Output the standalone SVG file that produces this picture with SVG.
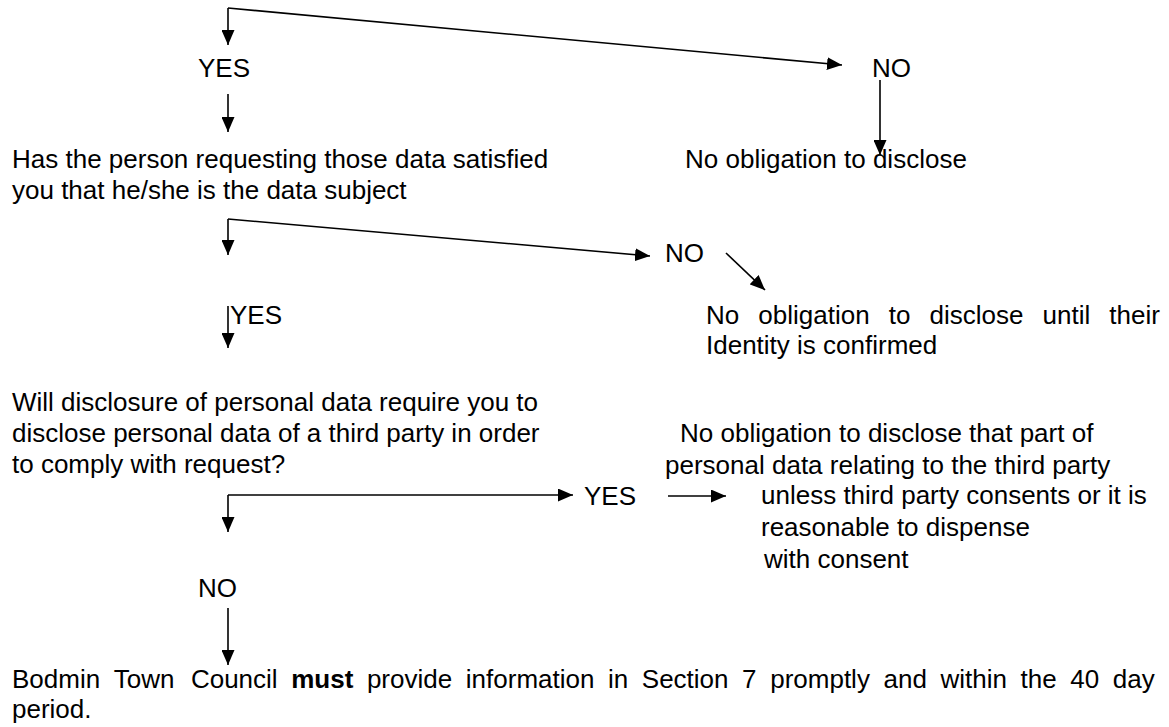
<svg xmlns="http://www.w3.org/2000/svg" width="1169" height="727" viewBox="0 0 1169 727">
<defs>
<marker id="ah" viewBox="0 0 15 13" refX="15" refY="6.5" markerWidth="15" markerHeight="13" markerUnits="userSpaceOnUse" orient="auto">
<path d="M0,0 L15,6.5 L0,13 z" fill="#000"/>
</marker>
</defs>
<style>
text{font-family:"Liberation Sans",Arial,sans-serif;font-size:26px;fill:#000}
.b{font-weight:bold}
.c{fill:none;stroke:#000;stroke-width:1.6}
</style>
<rect width="1169" height="727" fill="#fff"/>
<g id="connectors">
<path class="c" d="M228,8 L228,45" marker-end="url(#ah)"/>
<path class="c" d="M228,8 L842,65" marker-end="url(#ah)"/>
<path class="c" d="M880,80 L880,155" marker-end="url(#ah)"/>
<path class="c" d="M228,94 L228,132" marker-end="url(#ah)"/>
<path class="c" d="M228,219 L228,255" marker-end="url(#ah)"/>
<path class="c" d="M228,219 L650,256" marker-end="url(#ah)"/>
<path class="c" d="M726,253 L765,290" marker-end="url(#ah)"/>
<path class="c" d="M228,306 L228,348" marker-end="url(#ah)"/>
<path class="c" d="M228,495 L228,532" marker-end="url(#ah)"/>
<path class="c" d="M228,495 L573,495" marker-end="url(#ah)"/>
<path class="c" d="M668,496 L726,496" marker-end="url(#ah)"/>
<path class="c" d="M228,608 L228,665" marker-end="url(#ah)"/>
</g>
<g id="yes1"><text x="198" y="77">YES</text></g>
<g id="no1"><text x="872" y="77">NO</text></g>
<g id="q1"><text x="12" y="168">Has the person requesting those data satisfied</text><text x="12" y="199">you that he/she is the data subject</text></g>
<g id="r1"><text x="685" y="168">No obligation to disclose</text></g>
<g id="no2"><text x="665" y="262">NO</text></g>
<g id="yes2"><text x="230" y="324">YES</text></g>
<g id="r2"><text y="324"><tspan x="706">No</tspan> <tspan x="758.3">obligation</tspan> <tspan x="888.7">to</tspan> <tspan x="929.5">disclose</tspan> <tspan x="1042.5">until</tspan> <tspan x="1109.3">their</tspan></text><text x="706" y="354">Identity is confirmed</text></g>
<g id="q3"><text x="12" y="411">Will disclosure of personal data require you to</text><text x="12" y="442">disclose personal data of a third party in order</text><text x="12" y="473">to comply with request?</text></g>
<g id="r3"><text x="680" y="442">No obligation to disclose that part of</text><text x="665" y="474">personal data relating to the third party</text><text x="761" y="504">unless third party consents or it is</text><text x="761" y="536">reasonable to dispense</text><text x="764" y="568">with consent</text></g>
<g id="yes3"><text x="584" y="505">YES</text></g>
<g id="no3"><text x="198" y="597">NO</text></g>
<g id="end"><text y="688"><tspan x="12">Bodmin</tspan> <tspan x="113.7">Town</tspan> <tspan x="190.9">Council</tspan> <tspan x="291.2" class="b">must</tspan> <tspan x="366.9">provide</tspan> <tspan x="465.8">information</tspan> <tspan x="608">in</tspan> <tspan x="641.8">Section</tspan> <tspan x="742.1">7</tspan> <tspan x="770.2">promptly</tspan> <tspan x="883.5">and</tspan> <tspan x="940.5">within</tspan> <tspan x="1020.6">the</tspan> <tspan x="1070.3">40</tspan> <tspan x="1112.8">day</tspan></text><text x="12" y="718">period.</text></g>
</svg>
